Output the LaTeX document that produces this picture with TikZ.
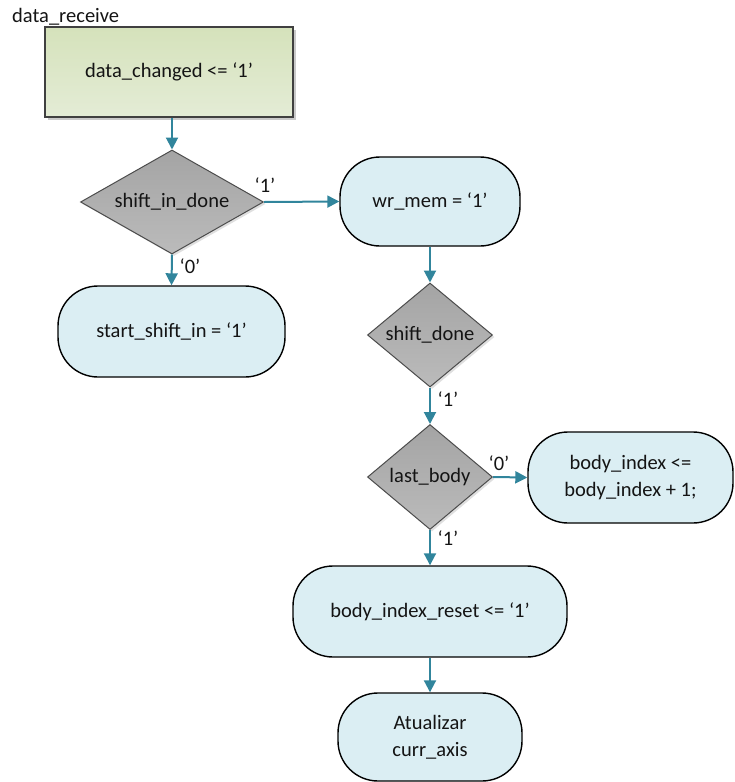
\documentclass[tikz,border=0pt]{standalone}
\usepackage{fontspec}
\setmainfont{Carlito}
\usetikzlibrary{shapes.geometric,arrows.meta,shadows}
\definecolor{flowteal}{HTML}{31859C}
\definecolor{actfill}{HTML}{DBEEF3}
\definecolor{starttop}{HTML}{D5E2BB}
\definecolor{startbot}{HTML}{E4ECD6}
\definecolor{dectop}{HTML}{A4A4A4}
\definecolor{decbot}{HTML}{BBBBBB}
\begin{document}
\begin{tikzpicture}[x=1pt,y=-1pt,
  every node/.style={font=\fontsize{20.5}{27}\selectfont, text=black!92},
  startbox/.style={rectangle, draw=black!75, line width=1.2pt,
    top color=starttop, bottom color=startbot,
    drop shadow={shadow xshift=3pt, shadow yshift=-3pt, fill=black!35, opacity=0.6},
    minimum width=248pt, minimum height=90pt, inner sep=0pt},
  decision/.style={diamond, draw=black!70, line width=1pt,
    top color=dectop, bottom color=decbot,
    drop shadow={shadow xshift=2pt, shadow yshift=-2pt, fill=black!25, opacity=0.5},
    inner sep=0pt},
  action/.style={rectangle, rounded corners=40pt, draw=black, line width=1.4pt,
    fill=actfill, inner sep=0pt, align=center},
  flow/.style={draw=flowteal, line width=2pt, -{Triangle[length=12pt,width=12pt]}},
  branch/.style={font=\fontsize{20.5}{25}\selectfont, inner sep=0pt}
]
\useasboundingbox (0,0) rectangle (734,782);

% title and entry block
\node[anchor=west, inner sep=0pt] (title) at (12,17) {data\_receive};
\node[startbox] (changed) at (169,72) {data\_changed <= ‘1’};

% first decision
\node[decision, aspect=1.76, minimum width=183pt, minimum height=104pt] (sid) at (172,202) {shift\_in\_done};
\node[action, minimum width=227pt, minimum height=91pt] (ssi) at (171.5,331.5) {start\_shift\_in = ‘1’};
\node[action, minimum width=180pt, minimum height=89pt] (wr) at (430,201.5) {wr\_mem = ‘1’};

% second column
\node[decision, aspect=1.2, minimum width=125pt, minimum height=104pt] (sd) at (430,335) {shift\_done};
\node[decision, aspect=1.2, minimum width=125pt, minimum height=105pt] (lb) at (430,477) {last\_body};
\node[action, minimum width=205pt, minimum height=91pt] (bi) at (630.5,477.5) {body\_index <=\\body\_index + 1;};
\node[action, minimum width=274pt, minimum height=91pt] (bir) at (430,611.5) {body\_index\_reset <= ‘1’};
\node[action, minimum width=184pt, minimum height=88pt] (upd) at (430,737) {Atualizar\\curr\_axis};

% connectors
\draw[flow] (changed.south -| sid.north) -- (sid.north);
\draw[flow] (sid.east) -- (wr.west);
\draw[flow] (sid.south) -- (ssi.north);
\draw[flow] (wr.south) -- (sd.north);
\draw[flow] (sd.south) -- (lb.north);
\draw[flow] (lb.east) -- (bi.west);
\draw[flow] (lb.south) -- (bir.north);
\draw[flow] (bir.south) -- (upd.north);

% branch labels
\node[branch] (l1) at (265,185) {‘1’};
\node[branch] (l0) at (190,266) {‘0’};
\node[branch] (l2) at (448,399) {‘1’};
\node[branch] (l3) at (499,463) {‘0’};
\node[branch] (l4) at (448,538) {‘1’};
\end{tikzpicture}
\end{document}
